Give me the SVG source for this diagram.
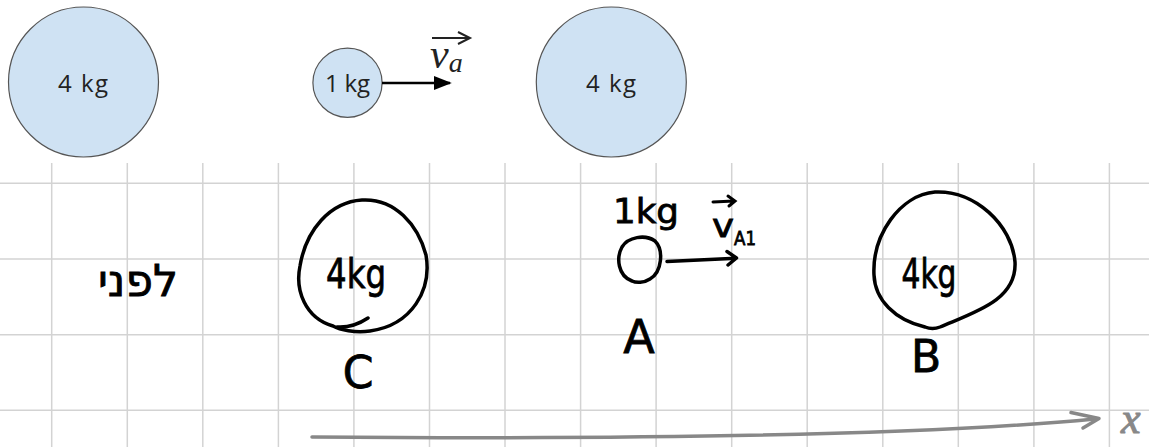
<svg xmlns="http://www.w3.org/2000/svg" width="1149" height="447" viewBox="0 0 1149 447">
<defs>
<style>
.grid line{stroke:#d3d3d3;stroke-width:1.5}
.ball{fill:#cfe2f3;stroke:#555;stroke-width:1.2}
.lbl{font-family:"Open Sans","DejaVu Sans",sans-serif;font-size:24px;fill:#222;text-anchor:middle}
.hand{fill:none;stroke:#000;stroke-width:3.5;stroke-linecap:round;stroke-linejoin:round}
.ht{font-family:"DejaVu Sans","Liberation Sans",sans-serif;fill:#000;stroke:#000;stroke-width:0.8;text-anchor:middle}
.math{font-family:"Liberation Serif",serif;font-style:italic;fill:#222}
</style>
<marker id="tri" viewBox="0 0 10 10" refX="9" refY="5" markerWidth="18" markerHeight="14" orient="auto" markerUnits="userSpaceOnUse" preserveAspectRatio="none">
<path d="M0,0 L10,5 L0,10 z" fill="#000"/>
</marker>
</defs>
<rect width="1149" height="447" fill="#fff"/>
<g class="grid" id="grid">
<line x1="0" y1="183.3" x2="1149" y2="183.3"/>
<line x1="0" y1="259" x2="1149" y2="259"/>
<line x1="0" y1="334.7" x2="1149" y2="334.7"/>
<line x1="0" y1="410.3" x2="1149" y2="410.3"/>
<line x1="51.7" y1="163" x2="51.7" y2="447"/>
<line x1="127.3" y1="163" x2="127.3" y2="447"/>
<line x1="202.8" y1="163" x2="202.8" y2="447"/>
<line x1="278.4" y1="163" x2="278.4" y2="447"/>
<line x1="353.9" y1="163" x2="353.9" y2="447"/>
<line x1="429.5" y1="163" x2="429.5" y2="447"/>
<line x1="505" y1="163" x2="505" y2="447"/>
<line x1="580.6" y1="163" x2="580.6" y2="447"/>
<line x1="656.1" y1="163" x2="656.1" y2="447"/>
<line x1="731.7" y1="163" x2="731.7" y2="447"/>
<line x1="807.2" y1="163" x2="807.2" y2="447"/>
<line x1="882.8" y1="163" x2="882.8" y2="447"/>
<line x1="958.3" y1="163" x2="958.3" y2="447"/>
<line x1="1033.9" y1="163" x2="1033.9" y2="447"/>
<line x1="1109.4" y1="163" x2="1109.4" y2="447"/>
</g>
<g id="ball-left">
<circle class="ball" cx="83.5" cy="82" r="75"/>
<text class="lbl" x="83" y="92" textLength="50">4 kg</text>
</g>
<g id="ball-mid">
<circle class="ball" cx="347.5" cy="82.8" r="34.6"/>
<text class="lbl" x="347.5" y="92" textLength="45">1 kg</text>
</g>
<g id="ball-right">
<circle class="ball" cx="611.3" cy="82" r="75"/>
<text class="lbl" x="611" y="92" textLength="50">4 kg</text>
</g>
<g id="va-label">
<text class="math" x="430" y="68" font-size="42">v<tspan font-size="28" dy="4">a</tspan></text>
<path d="M432,38 L468,38" fill="none" stroke="#222" stroke-width="2"/>
<path d="M458,32 L470,38 L458,44" fill="none" stroke="#222" stroke-width="2" stroke-linejoin="miter"/>
</g>
<g id="before-label">
<text class="ht" x="138" y="296" font-size="44">לפני</text>
</g>
<g id="node-C">
<path class="hand" d="M333,326 C305,318 295,290 300,266 C306,230 330,202 362,200 C395,198 418,225 426,255 C432,290 412,325 370,331 C355,333 340,330 333,326 M337,327 C352,328 362,322 368,318"/>
<text class="ht" x="356" y="288" font-size="40" textLength="60" lengthAdjust="spacingAndGlyphs">4kg</text>
<text class="ht" x="358" y="388" font-size="44">C</text>
</g>
<g id="node-A">
<path class="hand" d="M632,281 C618,276 616,258 622,247 C628,237 645,234 655,241 C664,250 662,272 650,279 C644,283 636,283 632,281"/>
<text class="ht" x="646" y="223" font-size="34" textLength="66" lengthAdjust="spacingAndGlyphs">1kg</text>
<text class="ht" x="639" y="353" font-size="46">A</text>
</g>
<g id="node-B">
<path class="hand" d="M925,327 C895,320 875,300 874,275 C872,235 900,195 935,192 C975,190 1012,225 1015,262 C1017,300 975,312 940,327 C935,329 930,329 925,327"/>
<text class="ht" x="929" y="288" font-size="40" textLength="55" lengthAdjust="spacingAndGlyphs">4kg</text>
<text class="ht" x="926" y="372" font-size="44">B</text>
</g>
<g id="connectors">
<path d="M382,83 L450,83" stroke="#000" stroke-width="2.5" fill="none" marker-end="url(#tri)"/>
<path class="hand" d="M667,261.5 L736,258.3 M727,251.5 L736.5,258 L728,265"/>
<path d="M312,437 C700,440 950,433 1095,419" fill="none" stroke="#888" stroke-width="3.5" stroke-linecap="round"/>
<path d="M1071,412.5 L1099,418.5 L1083,428" fill="none" stroke="#888" stroke-width="3.5" stroke-linecap="round" stroke-linejoin="round"/>
</g>
<g id="vA1-label">
<text class="ht" x="723" y="237" font-size="32" textLength="22" lengthAdjust="spacingAndGlyphs">v</text>
<text class="ht" x="745" y="245" font-size="20" textLength="22" lengthAdjust="spacingAndGlyphs">A1</text>
<path d="M713,202 L734,201 M728,196 L735,201 L729,206" fill="none" stroke="#000" stroke-width="3" stroke-linecap="round"/>
</g>
<g id="x-label">
<text x="1121" y="433" font-family="Liberation Serif,serif" font-style="italic" font-size="44" fill="#888" stroke="#888" stroke-width="1">x</text>
</g>
</svg>
